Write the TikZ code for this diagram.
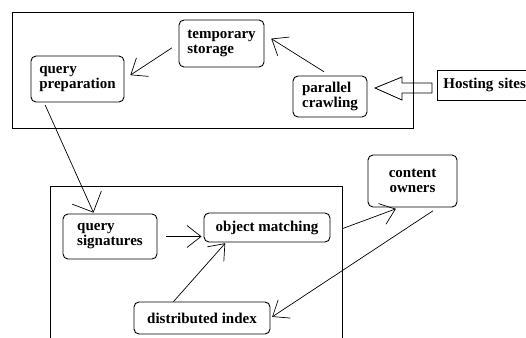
\documentclass[tikz,border=0pt]{standalone}
\usepackage{fontspec}
\setmainfont{Liberation Serif}
\usetikzlibrary{arrows.meta}
\begin{document}
\begin{tikzpicture}[x=1pt,y=-1pt,
  lbl/.style={font=\fontsize{15}{15}\selectfont\bfseries},
  blk/.style={lbl, draw, rounded corners=5pt, line width=0.9pt, inner sep=2pt, align=left},
  frm/.style={draw, line width=0.9pt},
  flow/.style={draw, line width=0.7pt, -{Straight Barb[length=14pt,width=22pt]}}]
\useasboundingbox (0,0) rectangle (526,337);
\draw[frm] (12,12) rectangle (413,128);
\draw[frm] (50,186) rectangle (342,350);
\node[blk, minimum width=85pt, minimum height=47pt] (temp) at (221.5,43.5){temporary\\storage};
\node[blk, minimum width=93pt, minimum height=46pt] (prep) at (77.5,79){query\\preparation};
\node[blk, minimum width=74pt, minimum height=41pt] (crawl) at (330,96.5){parallel\\crawling};
\node[lbl, frm, anchor=west, minimum height=30pt, text width=90pt, inner xsep=6pt, align=left] (host) at (437,85){Hosting sites};
\node[blk, minimum width=94pt, minimum height=45pt] (sig) at (110,236.5){query\\signatures};
\node[blk, minimum width=126pt, minimum height=29pt] (match) at (267,227.5){object matching};
\node[blk, minimum width=136pt, minimum height=32pt] (index) at (202,318){distributed index};
\node[blk, minimum width=89pt, minimum height=52pt, align=center] (owners) at (412.5,181){content\\owners};
% hollow arrow from the hosting sites
\coordinate (feed) at (375,88);
\draw[line width=0.8pt] (feed) -- ++(27,-11) -- ++(0,6) -- ++(30,0) -- ++(0,10) -- ++(-30,0) -- ++(0,7) -- cycle;
\draw[flow, shorten <=7pt, shorten >=8pt] (crawl.north) -- (temp.12);
\draw[flow, shorten <=8pt, shorten >=7pt] (temp.west) -- (prep.east);
\draw[flow, shorten <=3pt, shorten >=1pt, -{Straight Barb[length=16pt,width=32pt]}] (prep.215) -- (sig.125);
\draw[flow, shorten <=9pt, shorten >=2pt] (sig.east) -- (sig.east -| match.west);
\draw[flow, shorten >=1pt] (index.150) -- (match.200);
\draw[flow, shorten <=13pt, shorten >=4pt] (match.355) -- (owners.244);
\draw[flow, shorten <=6pt, shorten >=2pt] (owners.314) -- (index.east);
\end{tikzpicture}
\end{document}
